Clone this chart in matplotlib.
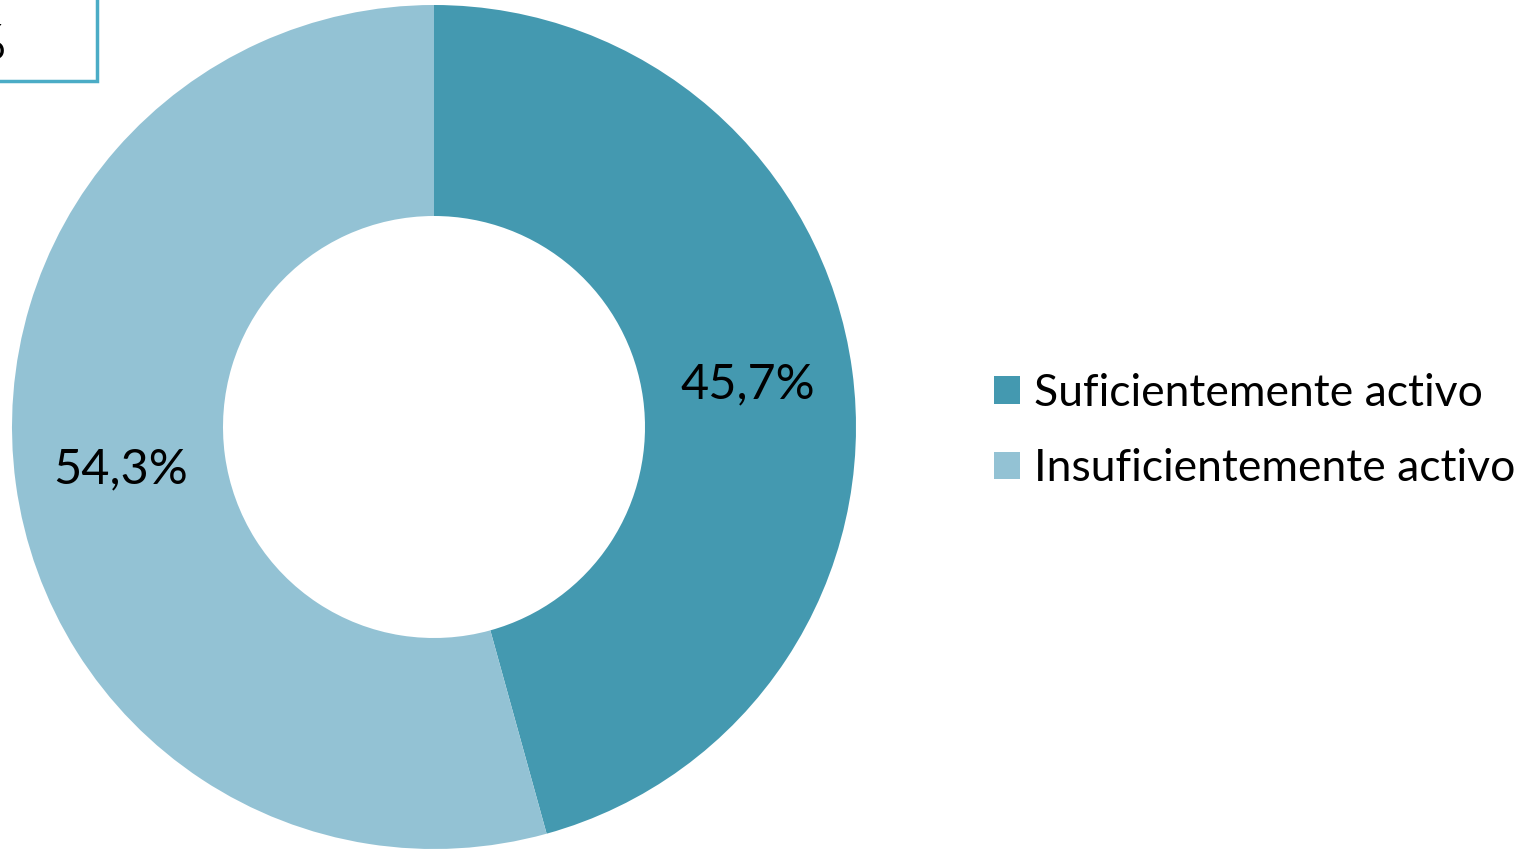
import math
import matplotlib.pyplot as plt
from matplotlib.patches import Rectangle

categorias = ["Suficientemente activo", "Insuficientemente activo"]
valores = [45.7, 54.3]
colores = ["#4499B0", "#93C2D4"]

plt.rcParams["font.family"] = ["Lato", "DejaVu Sans"]

W, H = 1534, 849
fig = plt.figure(figsize=(W / 100, H / 100), dpi=100)

# donut: centro (434, 427) px, radio 422 px
cx, cy, r = 434, 427, 422
ax = fig.add_axes([(cx - r) / W, (H - cy - r) / H, 2 * r / W, 2 * r / H])
wedges, textos = ax.pie(
    valores,
    colors=colores,
    startangle=90,
    counterclock=False,
    radius=1,
    wedgeprops=dict(width=0.5, linewidth=0),
)
for w, v in zip(wedges, valores):
    ang = math.radians((w.theta1 + w.theta2) / 2)
    ax.text(0.75 * math.cos(ang), 0.75 * math.sin(ang),
            f"{v:.1f}%".replace(".", ","), ha="center", va="center",
            fontsize=35, color="black")
ax.set_xlim(-1, 1)
ax.set_ylim(-1, 1)
ax.set_aspect("equal")
ax.axis("off")

fig.legend(wedges, categorias, loc="center left",
           bbox_to_anchor=(976 / W, 1 - 431 / H), frameon=False,
           fontsize=32, handlelength=0.58, handleheight=0.58,
           handletextpad=0.32, labelspacing=0.77, borderaxespad=0)

# recuadro recortado arriba a la izquierda
fig.patches.append(Rectangle((-20 / W, 1 - 81 / H), 117 / W, 120 / H,
                             transform=fig.transFigure, fill=False,
                             edgecolor="#4BACC6", linewidth=2.5))
fig.text(6 / W, 1 - 45 / H, "%", ha="right", va="center", fontsize=35)

fig.savefig("out.png", dpi=100)
